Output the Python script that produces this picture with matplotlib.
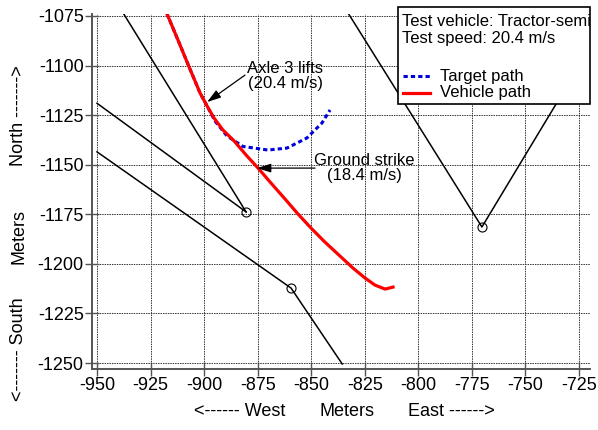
import matplotlib
matplotlib.use('Agg')
import matplotlib.pyplot as plt
from matplotlib.patches import Rectangle
from matplotlib.transforms import Affine2D, Bbox, TransformedBbox
from matplotlib.lines import Line2D

plt.rcParams['font.family'] = ['Liberation Sans', 'DejaVu Sans']
plt.rcParams['font.size'] = 12

# ---------------- data ----------------
x_ticks = [-950, -925, -900, -875, -850, -825, -800, -775, -750, -725]
y_ticks = [-1075, -1100, -1125, -1150, -1175, -1200, -1225, -1250]

# vehicle path (red)
vehicle_x = [-917.3, -912.2, -907.0, -901.9, -898.6, -895.4, -891.2, -886.0,
             -880.4, -874.8, -868.8, -862.2, -856.2, -850.1, -843.6, -836.6,
             -830.5, -824.9, -820.2, -815.5, -811.8]
vehicle_y = [-1074.0, -1087.1, -1100.7, -1113.8, -1120.4, -1126.4, -1132.5, -1138.0,
             -1145.1, -1151.7, -1159.2, -1167.3, -1174.8, -1181.9, -1189.0, -1196.0,
             -1202.1, -1207.1, -1210.7, -1212.7, -1211.7]

# target path (blue dotted)
target_x = [-917.3, -912.2, -907.0, -901.9, -898.6, -894.9, -889.3, -881.8,
            -870.2, -861.3, -852.0, -845.0, -841.2]
target_y = [-1074.0, -1087.1, -1100.7, -1113.8, -1120.4, -1128.0, -1135.5, -1140.8,
            -1142.6, -1141.6, -1136.5, -1129.0, -1122.4]

# black reference lines
edge1_x = [-937.5, -880.4]
edge1_y = [-1074.0, -1173.8]
edge2_x = [-950.0, -880.4]
edge2_y = [-1119.0, -1173.8]
edge3_x = [-950.0, -859.4, -835.5]
edge3_y = [-1143.5, -1212.2, -1250.5]
vee_x = [-832.5, -770.3, -712.0]
vee_y = [-1074.0, -1181.4, -1077.0]

# event markers (circles)
marker_x = [-880.4, -859.4, -770.3]
marker_y = [-1173.8, -1212.2, -1181.4]

# annotations
axle_head = (-898.6, -1118.4)
axle_tail = (-880.9, -1104.8)
ground_head = (-875.3, -1151.7)
ground_tail = (-848.2, -1151.7)

# ---------------- figure ----------------
W, H = 598, 430
fig = plt.figure(figsize=(W / 100, H / 100), dpi=100)
ax_l, ax_r, ax_t, ax_b = 92, 590, 14, 369
ax = fig.add_axes([ax_l / W, 1 - ax_b / H, (ax_r - ax_l) / W, (ax_b - ax_t) / H])
px = Affine2D().scale(1 / W, -1 / H).translate(0, 1) + fig.transFigure

ax.set_xlim(-952.33, -719.84)
ax.set_ylim(-1253.0, -1074.0)
ax.set_xticks(x_ticks)
ax.set_yticks(y_ticks)
ax.set_xticklabels([str(v) for v in x_ticks])
ax.set_yticklabels([str(v) for v in y_ticks])

ax.grid(True, color='#333333', lw=0.7, linestyle=(0, (1.5, 1)))
ax.set_axisbelow(True)
for s in ['top', 'right']:
    ax.spines[s].set_visible(False)
for s in ['left', 'bottom']:
    ax.spines[s].set_color('#555555')
    ax.spines[s].set_linewidth(1.4)
ax.tick_params(direction='inout', length=10, width=1, color='#555555',
               pad=1, labelsize=13)

for xs, ys in [(edge1_x, edge1_y), (edge2_x, edge2_y), (edge3_x, edge3_y), (vee_x, vee_y)]:
    ax.plot(xs, ys, color='black', lw=1.1, zorder=3)
ax.plot(marker_x, marker_y, linestyle='none', marker='o', ms=6.5,
        mfc='none', mec='black', mew=0.8, zorder=4)

ax.plot(target_x, target_y, color='#0000dd', lw=2.2, dashes=(1.4, 1.0), zorder=4)
ax.plot(vehicle_x, vehicle_y, color='red', lw=2.3, zorder=5, solid_joinstyle='round')

arrow = dict(arrowstyle='-|>,head_length=0.7,head_width=0.22', color='black',
             lw=0.9, shrinkA=0, shrinkB=0)
ax.annotate('', xy=axle_head, xytext=axle_tail, arrowprops=arrow, zorder=6)
ax.annotate('', xy=ground_head, xytext=ground_tail, arrowprops=arrow, zorder=6)
ax.text(285, 76, 'Axle 3 lifts\n(20.4 m/s)', transform=px, ha='center', va='center',
        fontsize=12, linespacing=1.05)
ax.text(364, 168, 'Ground strike\n(18.4 m/s)', transform=px, ha='center', va='center',
        fontsize=12, linespacing=1.05)

# legend box
box = Rectangle((398, 7), 192, 97, transform=px, facecolor='white',
                edgecolor='black', lw=1.2, zorder=10)
fig.add_artist(box)
clip = TransformedBbox(Bbox.from_extents(398 / W, 0, 590 / W, 1), fig.transFigure)
t1 = fig.text(402 / W, 1 - 22 / H, 'Test vehicle: Tractor-semi', ha='left', va='center',
              fontsize=12, zorder=11)
t1.set_clip_box(clip)
t1.set_clip_on(True)
fig.text(402 / W, 1 - 39 / H, 'Test speed: 20.4 m/s', ha='left', va='center',
         fontsize=12, zorder=11)
fig.add_artist(Line2D([403, 430], [76, 76], transform=px, color='#0000dd', lw=2.2,
                      dashes=(1.4, 1.0), zorder=11))
fig.add_artist(Line2D([403, 430], [93, 93], transform=px, color='red', lw=2.3, zorder=11))
fig.text(440 / W, 1 - 76 / H, 'Target path', ha='left', va='center', fontsize=12, zorder=11)
fig.text(440 / W, 1 - 93 / H, 'Vehicle path', ha='left', va='center', fontsize=12, zorder=11)

# axis labels
fig.text(19 / W, 1 - 116 / H, 'North ------->', rotation=90, ha='center', va='center', fontsize=13)
fig.text(19 / W, 1 - 236 / H, 'Meters', rotation=90, ha='center', va='center', fontsize=13)
fig.text(19 / W, 1 - 349 / H, '<------- South', rotation=90, ha='center', va='center', fontsize=13)
fig.text(240 / W, 1 - 412 / H, '<------ West', ha='center', va='center', fontsize=13)
fig.text(347 / W, 1 - 412 / H, 'Meters', ha='center', va='center', fontsize=13)
fig.text(451 / W, 1 - 412 / H, 'East ------>', ha='center', va='center', fontsize=13)

fig.savefig('out.png', dpi=100)
